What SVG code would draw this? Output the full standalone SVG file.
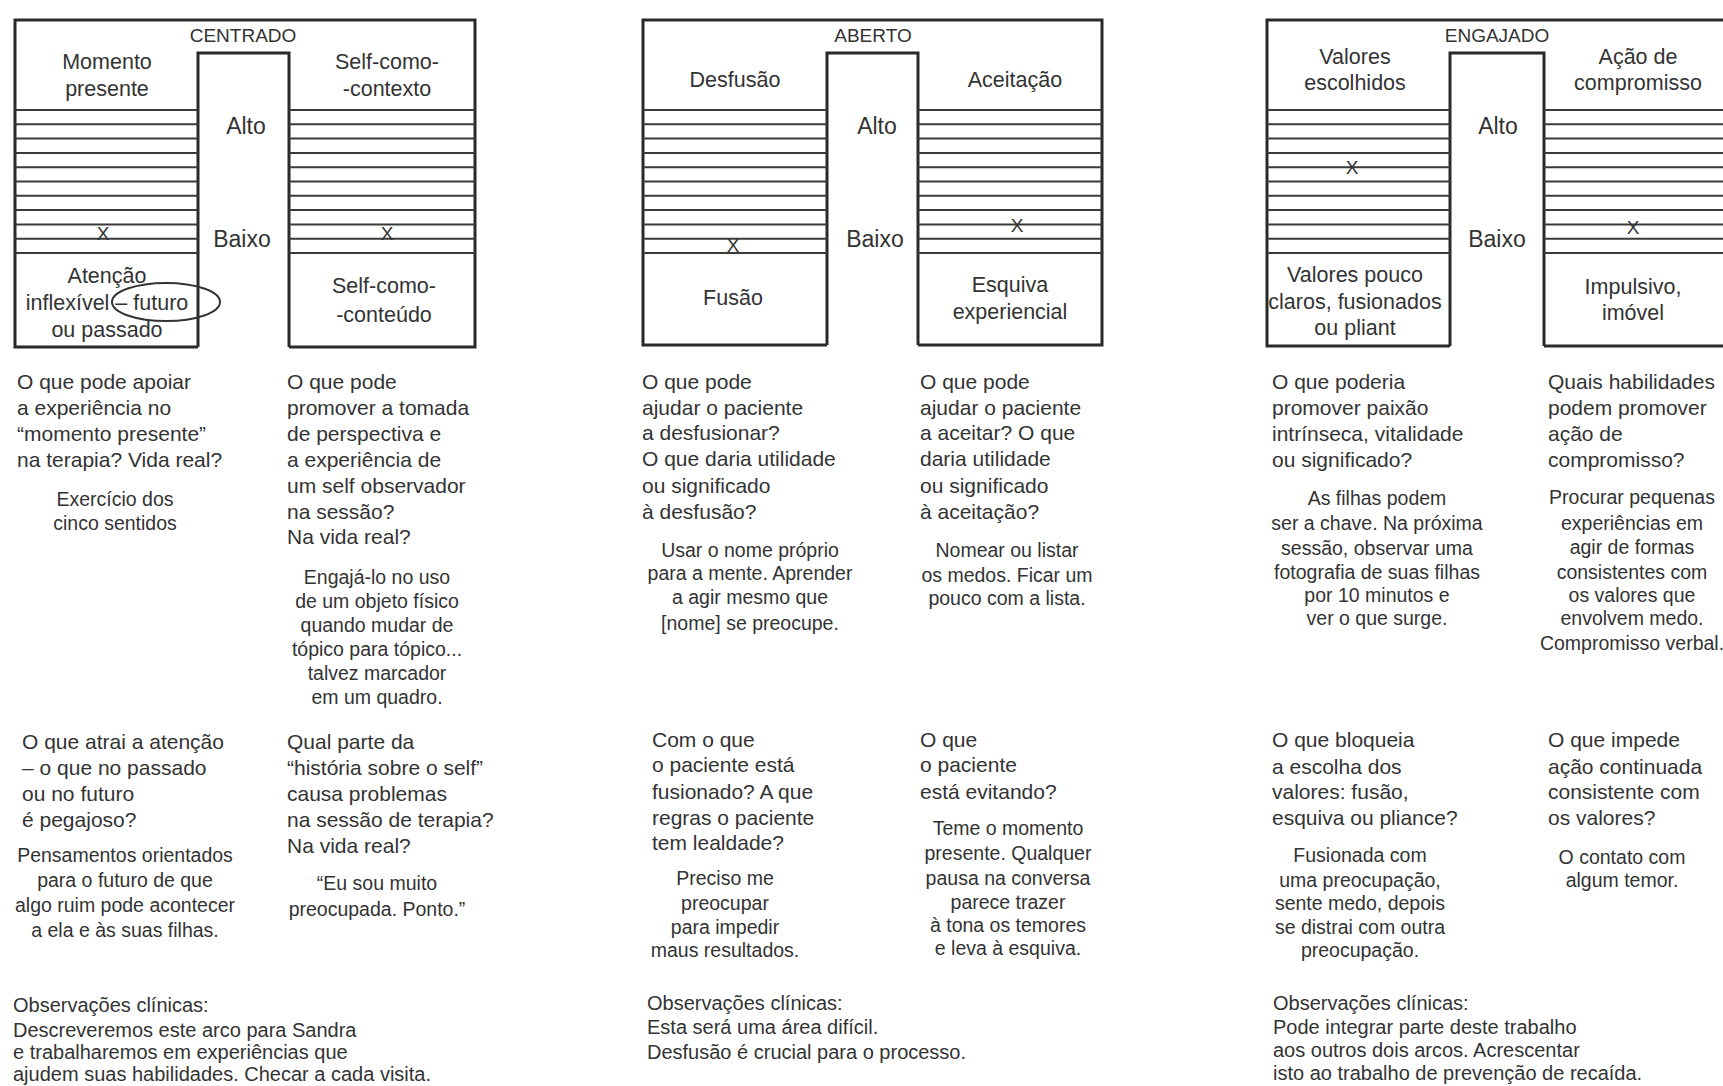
<svg xmlns="http://www.w3.org/2000/svg" width="1723" height="1086" viewBox="0 0 1723 1086">
<style>
text{font-family:"Liberation Sans",Arial,sans-serif;fill:#333}
.box{fill:none;stroke:#2a2a2a;stroke-width:3}
.hat{stroke:#3a3a3a;stroke-width:2}
.lbl{font-size:21.5px;text-anchor:middle}
.hl{font-size:19px;text-anchor:middle}
.ab{font-size:23px;text-anchor:middle}
.x{font-size:19px;text-anchor:middle}
.q{font-size:21px}
.a{font-size:19.5px;text-anchor:middle}
.ob{font-size:20px}
</style>
<rect width="1723" height="1086" fill="#fff"/>

<!-- Panel 1 -->
<g id="centrado">
<path class="box" d="M198,347 H15 V20 H475 V347 H289 M198,347 V53 H289 V347"/>
<g class="hat">
<path d="M15,110H198M15,124.3H198M15,138.6H198M15,152.9H198M15,167.2H198M15,181.5H198M15,195.8H198M15,210.1H198M15,224.4H198M15,238.7H198M15,253H198"/>
<path d="M289,110H475M289,124.3H475M289,138.6H475M289,152.9H475M289,167.2H475M289,181.5H475M289,195.8H475M289,210.1H475M289,224.4H475M289,238.7H475M289,253H475"/>
</g>
<text class="hl" x="243" y="42">CENTRADO</text>
<text class="lbl" x="107" y="69">Momento</text>
<text class="lbl" x="107" y="96">presente</text>
<text class="lbl" x="387" y="69">Self-como-</text>
<text class="lbl" x="387" y="96">-contexto</text>
<text class="ab" x="246" y="134">Alto</text>
<text class="ab" x="242" y="247">Baixo</text>
<text class="x" x="103" y="240">X</text>
<text class="x" x="387" y="240">X</text>
<text class="lbl" x="107" y="283">Atenção</text>
<text class="lbl" x="107" y="310">inflexível – futuro</text>
<text class="lbl" x="107" y="337">ou passado</text>
<ellipse cx="166" cy="302" rx="54" ry="19" fill="none" stroke="#333" stroke-width="2"/>
<text class="lbl" x="384" y="293">Self-como-</text>
<text class="lbl" x="384" y="322">-conteúdo</text>
</g>

<g id="centrado-q1">
<text class="q" x="17" y="389">O que pode apoiar</text>
<text class="q" x="17" y="415">a experiência no</text>
<text class="q" x="17" y="441">“momento presente”</text>
<text class="q" x="17" y="467">na terapia? Vida real?</text>
<text class="a" x="115" y="506">Exercício dos</text>
<text class="a" x="115" y="530">cinco sentidos</text>
</g>
<g id="centrado-q2">
<text class="q" x="287" y="389">O que pode</text>
<text class="q" x="287" y="415">promover a tomada</text>
<text class="q" x="287" y="441">de perspectiva e</text>
<text class="q" x="287" y="467">a experiência de</text>
<text class="q" x="287" y="493">um self observador</text>
<text class="q" x="287" y="519">na sessão?</text>
<text class="q" x="287" y="544">Na vida real?</text>
<text class="a" x="377" y="584">Engajá-lo no uso</text>
<text class="a" x="377" y="608">de um objeto físico</text>
<text class="a" x="377" y="632">quando mudar de</text>
<text class="a" x="377" y="656">tópico para tópico...</text>
<text class="a" x="377" y="680">talvez marcador</text>
<text class="a" x="377" y="704">em um quadro.</text>
</g>
<g id="centrado-q3">
<text class="q" x="22" y="749">O que atrai a atenção</text>
<text class="q" x="22" y="775">– o que no passado</text>
<text class="q" x="22" y="801">ou no futuro</text>
<text class="q" x="22" y="827">é pegajoso?</text>
<text class="a" x="125" y="862">Pensamentos orientados</text>
<text class="a" x="125" y="887">para o futuro de que</text>
<text class="a" x="125" y="912">algo ruim pode acontecer</text>
<text class="a" x="125" y="937">a ela e às suas filhas.</text>
</g>
<g id="centrado-q4">
<text class="q" x="287" y="749">Qual parte da</text>
<text class="q" x="287" y="775">“história sobre o self”</text>
<text class="q" x="287" y="801">causa problemas</text>
<text class="q" x="287" y="827">na sessão de terapia?</text>
<text class="q" x="287" y="853">Na vida real?</text>
<text class="a" x="377" y="890">“Eu sou muito</text>
<text class="a" x="377" y="916">preocupada. Ponto.”</text>
</g>
<g id="centrado-obs">
<text class="ob" x="13" y="1012">Observações clínicas:</text>
<text class="ob" x="13" y="1037">Descreveremos este arco para Sandra</text>
<text class="ob" x="13" y="1059">e trabalharemos em experiências que</text>
<text class="ob" x="13" y="1081">ajudem suas habilidades. Checar a cada visita.</text>
</g>

<!-- Panel 2 -->
<g id="aberto">
<path class="box" d="M827,345 H643 V20 H1102 V345 H918 M827,345 V53 H918 V345"/>
<g class="hat">
<path d="M643,110H827M643,124.3H827M643,138.6H827M643,152.9H827M643,167.2H827M643,181.5H827M643,195.8H827M643,210.1H827M643,224.4H827M643,238.7H827M643,253H827"/>
<path d="M918,110H1102M918,124.3H1102M918,138.6H1102M918,152.9H1102M918,167.2H1102M918,181.5H1102M918,195.8H1102M918,210.1H1102M918,224.4H1102M918,238.7H1102M918,253H1102"/>
</g>
<text class="hl" x="873" y="42">ABERTO</text>
<text class="lbl" x="735" y="87">Desfusão</text>
<text class="lbl" x="1015" y="87">Aceitação</text>
<text class="ab" x="877" y="134">Alto</text>
<text class="ab" x="875" y="247">Baixo</text>
<text class="x" x="733" y="252">X</text>
<text class="x" x="1017" y="232">X</text>
<text class="lbl" x="733" y="305">Fusão</text>
<text class="lbl" x="1010" y="292">Esquiva</text>
<text class="lbl" x="1010" y="319">experiencial</text>
</g>

<g id="aberto-q1">
<text class="q" x="642" y="389">O que pode</text>
<text class="q" x="642" y="415">ajudar o paciente</text>
<text class="q" x="642" y="440">a desfusionar?</text>
<text class="q" x="642" y="466">O que daria utilidade</text>
<text class="q" x="642" y="493">ou significado</text>
<text class="q" x="642" y="519">à desfusão?</text>
<text class="a" x="750" y="557">Usar o nome próprio</text>
<text class="a" x="750" y="580">para a mente. Aprender</text>
<text class="a" x="750" y="604">a agir mesmo que</text>
<text class="a" x="750" y="630">[nome] se preocupe.</text>
</g>
<g id="aberto-q2">
<text class="q" x="920" y="389">O que pode</text>
<text class="q" x="920" y="415">ajudar o paciente</text>
<text class="q" x="920" y="440">a aceitar? O que</text>
<text class="q" x="920" y="466">daria utilidade</text>
<text class="q" x="920" y="493">ou significado</text>
<text class="q" x="920" y="519">à aceitação?</text>
<text class="a" x="1007" y="557">Nomear ou listar</text>
<text class="a" x="1007" y="582">os medos. Ficar um</text>
<text class="a" x="1007" y="605">pouco com a lista.</text>
</g>
<g id="aberto-q3">
<text class="q" x="652" y="747">Com o que</text>
<text class="q" x="652" y="772">o paciente está</text>
<text class="q" x="652" y="799">fusionado? A que</text>
<text class="q" x="652" y="825">regras o paciente</text>
<text class="q" x="652" y="850">tem lealdade?</text>
<text class="a" x="725" y="885">Preciso me</text>
<text class="a" x="725" y="910">preocupar</text>
<text class="a" x="725" y="934">para impedir</text>
<text class="a" x="725" y="957">maus resultados.</text>
</g>
<g id="aberto-q4">
<text class="q" x="920" y="747">O que</text>
<text class="q" x="920" y="772">o paciente</text>
<text class="q" x="920" y="799">está evitando?</text>
<text class="a" x="1008" y="835">Teme o momento</text>
<text class="a" x="1008" y="860">presente. Qualquer</text>
<text class="a" x="1008" y="885">pausa na conversa</text>
<text class="a" x="1008" y="909">parece trazer</text>
<text class="a" x="1008" y="932">à tona os temores</text>
<text class="a" x="1008" y="955">e leva à esquiva.</text>
</g>
<g id="aberto-obs">
<text class="ob" x="647" y="1010">Observações clínicas:</text>
<text class="ob" x="647" y="1034">Esta será uma área difícil.</text>
<text class="ob" x="647" y="1059">Desfusão é crucial para o processo.</text>
</g>

<!-- Panel 3 -->
<g id="engajado">
<path class="box" d="M1450,346 H1267 V20 H1730 M1723,346 H1544 M1450,346 V53 H1544 V346"/>
<g class="hat">
<path d="M1267,110H1450M1267,124.3H1450M1267,138.6H1450M1267,152.9H1450M1267,167.2H1450M1267,181.5H1450M1267,195.8H1450M1267,210.1H1450M1267,224.4H1450M1267,238.7H1450M1267,253H1450"/>
<path d="M1544,110H1723M1544,124.3H1723M1544,138.6H1723M1544,152.9H1723M1544,167.2H1723M1544,181.5H1723M1544,195.8H1723M1544,210.1H1723M1544,224.4H1723M1544,238.7H1723M1544,253H1723"/>
</g>
<text class="hl" x="1497" y="42">ENGAJADO</text>
<text class="lbl" x="1355" y="64">Valores</text>
<text class="lbl" x="1355" y="90">escolhidos</text>
<text class="lbl" x="1638" y="64">Ação de</text>
<text class="lbl" x="1638" y="90">compromisso</text>
<text class="ab" x="1498" y="134">Alto</text>
<text class="ab" x="1497" y="247">Baixo</text>
<text class="x" x="1352" y="174">X</text>
<text class="x" x="1633" y="234">X</text>
<text class="lbl" x="1355" y="282">Valores pouco</text>
<text class="lbl" x="1355" y="309">claros, fusionados</text>
<text class="lbl" x="1355" y="335">ou pliant</text>
<text class="lbl" x="1633" y="294">Impulsivo,</text>
<text class="lbl" x="1633" y="320">imóvel</text>
</g>

<g id="engajado-q1">
<text class="q" x="1272" y="389">O que poderia</text>
<text class="q" x="1272" y="415">promover paixão</text>
<text class="q" x="1272" y="441">intrínseca, vitalidade</text>
<text class="q" x="1272" y="467">ou significado?</text>
<text class="a" x="1377" y="505">As filhas podem</text>
<text class="a" x="1377" y="530">ser a chave. Na próxima</text>
<text class="a" x="1377" y="555">sessão, observar uma</text>
<text class="a" x="1377" y="579">fotografia de suas filhas</text>
<text class="a" x="1377" y="602">por 10 minutos e</text>
<text class="a" x="1377" y="625">ver o que surge.</text>
</g>
<g id="engajado-q2">
<text class="q" x="1548" y="389">Quais habilidades</text>
<text class="q" x="1548" y="415">podem promover</text>
<text class="q" x="1548" y="441">ação de</text>
<text class="q" x="1548" y="467">compromisso?</text>
<text class="a" x="1632" y="504">Procurar pequenas</text>
<text class="a" x="1632" y="530">experiências em</text>
<text class="a" x="1632" y="554">agir de formas</text>
<text class="a" x="1632" y="579">consistentes com</text>
<text class="a" x="1632" y="602">os valores que</text>
<text class="a" x="1632" y="625">envolvem medo.</text>
<text class="a" x="1632" y="650">Compromisso verbal.</text>
</g>
<g id="engajado-q3">
<text class="q" x="1272" y="747">O que bloqueia</text>
<text class="q" x="1272" y="774">a escolha dos</text>
<text class="q" x="1272" y="799">valores: fusão,</text>
<text class="q" x="1272" y="825">esquiva ou pliance?</text>
<text class="a" x="1360" y="862">Fusionada com</text>
<text class="a" x="1360" y="887">uma preocupação,</text>
<text class="a" x="1360" y="910">sente medo, depois</text>
<text class="a" x="1360" y="934">se distrai com outra</text>
<text class="a" x="1360" y="957">preocupação.</text>
</g>
<g id="engajado-q4">
<text class="q" x="1548" y="747">O que impede</text>
<text class="q" x="1548" y="774">ação continuada</text>
<text class="q" x="1548" y="799">consistente com</text>
<text class="q" x="1548" y="825">os valores?</text>
<text class="a" x="1622" y="864">O contato com</text>
<text class="a" x="1622" y="887">algum temor.</text>
</g>
<g id="engajado-obs">
<text class="ob" x="1273" y="1010">Observações clínicas:</text>
<text class="ob" x="1273" y="1034">Pode integrar parte deste trabalho</text>
<text class="ob" x="1273" y="1057">aos outros dois arcos. Acrescentar</text>
<text class="ob" x="1273" y="1080">isto ao trabalho de prevenção de recaída.</text>
</g>
</svg>
